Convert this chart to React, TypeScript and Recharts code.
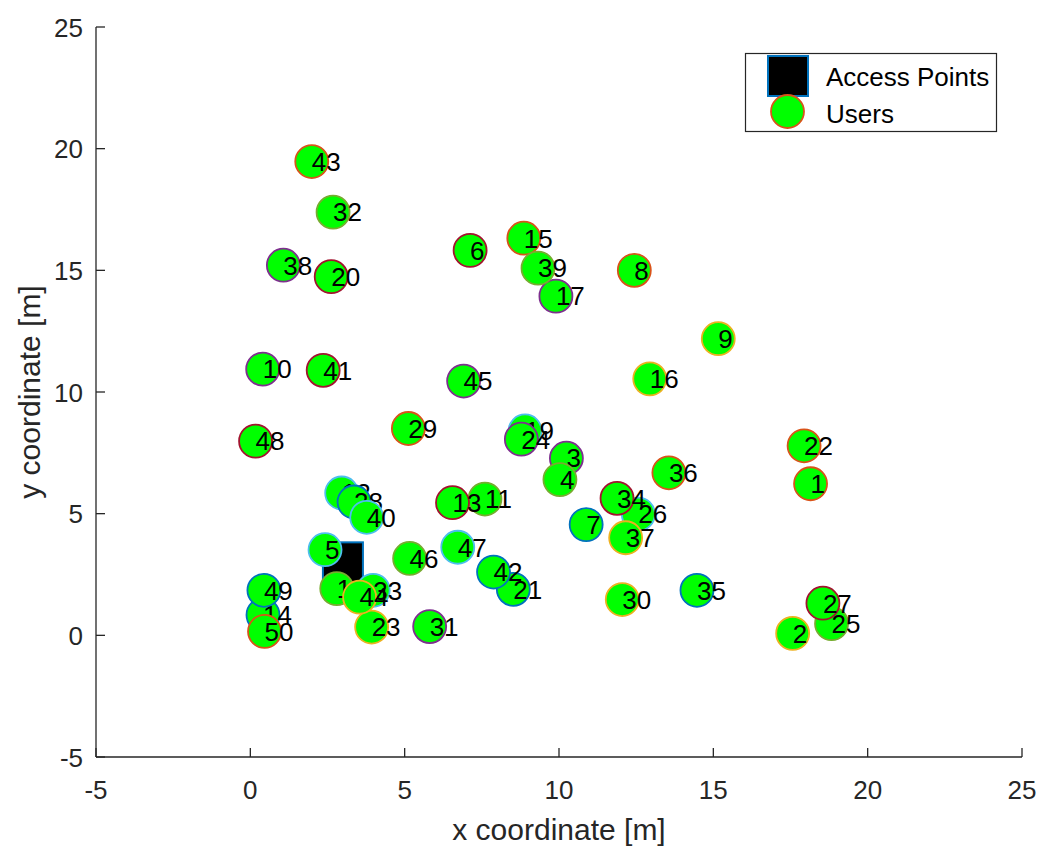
import React from 'react';
import { ScatterChart, Scatter, XAxis, YAxis } from 'recharts';

// Access point location
const apX = [3];
const apY = [3];

// User locations, user n is at index n-1
const userX = [
  18.15, 17.57, 10.24, 10.03, 2.42, 7.12, 10.88, 12.44, 15.16, 0.4,
  7.6, 2.96, 6.55, 0.41, 8.86, 12.94, 9.9, 2.8, 8.9, 2.62,
  8.52, 17.94, 3.93, 8.78, 18.83, 12.57, 18.55, 3.36, 5.12, 12.05,
  5.81, 2.68, 3.98, 11.88, 14.47, 13.56, 12.16, 1.07, 9.32, 3.77,
  2.36, 7.88, 1.99, 3.54, 6.91, 5.16, 6.72, 0.17, 0.44, 0.46,
];
const userY = [
  6.23, 0.08, 7.28, 6.4, 3.52, 15.82, 4.55, 15.0, 12.19, 10.94,
  5.6, 5.85, 5.45, 0.84, 16.32, 10.54, 13.94, 1.92, 8.4, 14.74,
  1.89, 7.79, 0.34, 8.06, 0.48, 4.98, 1.32, 5.48, 8.5, 1.47,
  0.36, 17.39, 1.85, 5.63, 1.85, 6.68, 4.01, 15.21, 15.09, 4.85,
  10.89, 2.6, 19.47, 1.57, 10.45, 3.16, 3.62, 7.98, 1.85, 0.16,
];

const axisTicks = [-5, 0, 5, 10, 15, 20, 25];

// default line colour order, cycled by user number
const EDGE_COLORS = ['#0072BD', '#D95319', '#EDB120', '#7E2F8E', '#77AC30', '#4DBEEE', '#A2142F'];

const AXIS_COLOR = '#262626';
const FONT = '"Liberation Sans", Arial, Helvetica, sans-serif';

const apData = apX.map((x, i) => ({ x, y: apY[i] }));
const userData = userX.map((x, i) => ({ x, y: userY[i], id: i + 1 }));

const XTick = (props: any) => {
  const { x, y, payload } = props;
  return (
    <g>
      <line x1={x} y1={y} x2={x} y2={y - 9} stroke={AXIS_COLOR} strokeWidth={1.3} />
      <text x={x} y={y + 42} textAnchor="middle" fill={AXIS_COLOR} fontSize={26} fontFamily={FONT}>
        {payload.value}
      </text>
    </g>
  );
};

const YTick = (props: any) => {
  const { x, y, payload } = props;
  return (
    <g>
      <line x1={x} y1={y} x2={x + 9} y2={y} stroke={AXIS_COLOR} strokeWidth={1.3} />
      <text x={x - 13} y={y + 9.5} textAnchor="end" fill={AXIS_COLOR} fontSize={26} fontFamily={FONT}>
        {payload.value}
      </text>
    </g>
  );
};

const ApShape = (props: any) => {
  const { cx, cy } = props;
  const s = 40;
  return <rect x={cx - s / 2} y={cy - s / 2} width={s} height={s} fill="#000" stroke="#0072BD" strokeWidth={2} />;
};

const UserShape = (props: any) => {
  const { cx, cy, payload } = props;
  const id = payload.id;
  return (
    <g>
      <circle cx={cx} cy={cy} r={16.5} fill="#00FF00" stroke={EDGE_COLORS[id % 7]} strokeWidth={1.8} />
      <text x={cx} y={cy + 9.3} fill="#000" fontSize={26} fontFamily={FONT}>
        {id}
      </text>
    </g>
  );
};

const XTitle = (props: any) => {
  const { viewBox } = props;
  const cx = viewBox.x + viewBox.width / 2;
  return (
    <text x={cx} y={840} textAnchor="middle" fill={AXIS_COLOR} fontSize={30} fontFamily={FONT}>
      x coordinate [m]
    </text>
  );
};

const YTitle = (props: any) => {
  const { viewBox } = props;
  const cy = viewBox.y + viewBox.height / 2;
  const bx = 40;
  return (
    <text
      x={bx}
      y={cy}
      transform={`rotate(-90, ${bx}, ${cy})`}
      textAnchor="middle"
      fill={AXIS_COLOR}
      fontSize={30}
      fontFamily={FONT}
    >
      y coordinate [m]
    </text>
  );
};

const LegendBox = () => (
  <svg
    width={1040}
    height={846}
    style={{ position: 'absolute', left: 0, top: 0, pointerEvents: 'none' }}
  >
    <rect x={745.5} y={53.5} width={251} height={78} fill="#fff" stroke={AXIS_COLOR} strokeWidth={1.2} />
    <rect x={768} y={56} width={40} height={40} fill="#000" stroke="#0072BD" strokeWidth={2} />
    <circle cx={787.5} cy={111.5} r={16.5} fill="#00FF00" stroke="#D95319" strokeWidth={1.8} />
    <text x={826} y={86} fill="#000" fontSize={26} fontFamily={FONT}>
      Access Points
    </text>
    <text x={826} y={123} fill="#000" fontSize={26} fontFamily={FONT}>
      Users
    </text>
  </svg>
);

export default function App() {
  return (
    <div style={{ position: 'fixed', left: 0, top: 0, width: 1040, height: 846, background: '#fff' }}>
      <ScatterChart width={1040} height={846} margin={{ top: 27, right: 18, bottom: 0, left: 0 }}>
        <XAxis
          type="number"
          dataKey="x"
          domain={[-5, 25]}
          ticks={axisTicks}
          allowDataOverflow
          height={89}
          tickSize={0}
          tickMargin={0}
          tickLine={false}
          axisLine={{ stroke: AXIS_COLOR, strokeWidth: 1.3 }}
          tick={<XTick />}
          label={{ content: <XTitle /> }}
        />
        <YAxis
          type="number"
          dataKey="y"
          domain={[-5, 25]}
          ticks={axisTicks}
          allowDataOverflow
          width={96}
          tickSize={0}
          tickMargin={0}
          tickLine={false}
          axisLine={{ stroke: AXIS_COLOR, strokeWidth: 1.3 }}
          tick={<YTick />}
          label={{ content: <YTitle /> }}
        />
        <Scatter data={apData} shape={<ApShape />} isAnimationActive={false} />
        <Scatter data={userData} shape={<UserShape />} isAnimationActive={false} />
      </ScatterChart>
      <LegendBox />
    </div>
  );
}
